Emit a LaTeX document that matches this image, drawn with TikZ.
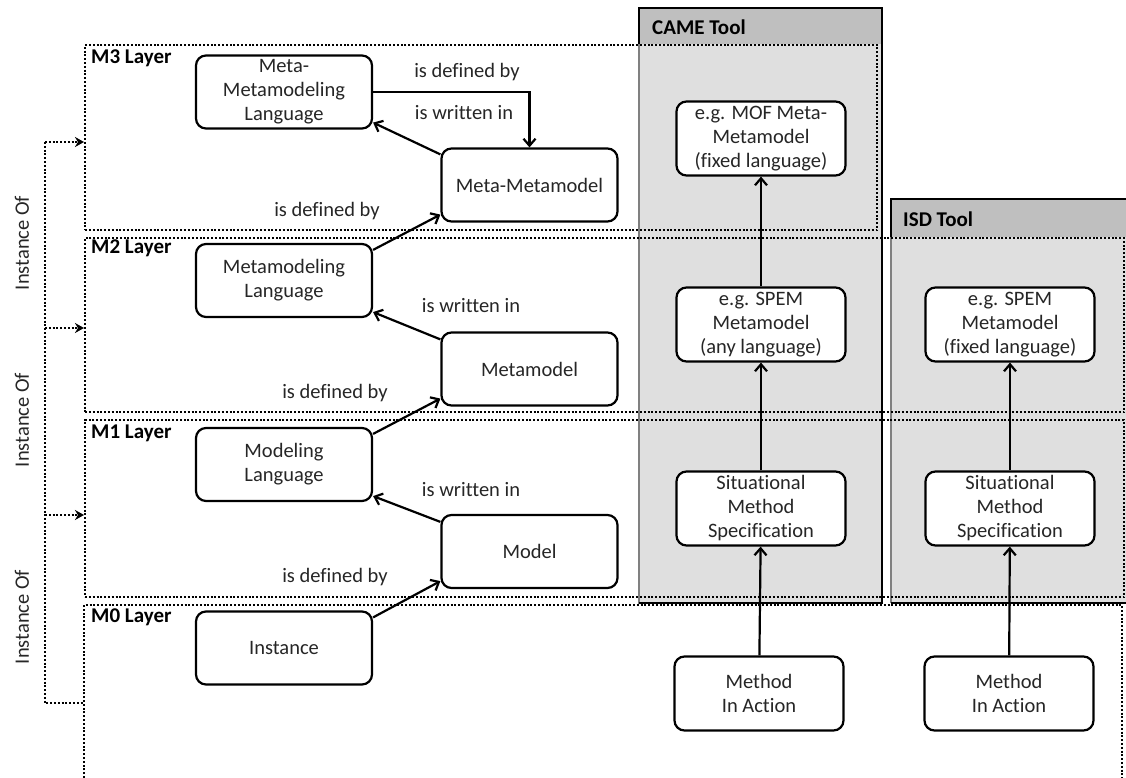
\documentclass[tikz,border=0pt]{standalone}
\usepackage{fontspec}
\setmainfont{Carlito}[Ligatures=NoCommon]
\usetikzlibrary{arrows.meta,positioning}

\tikzset{
  box/.style={draw,line width=2.2pt,rounded corners=10pt,fill=white,minimum width=176pt,
    minimum height=73pt,inner sep=1pt,align=center,text=black!85,font=\fontsize{20.5}{24}\selectfont},
  toolnode/.style={box,minimum width=169pt,minimum height=74pt},
  dots/.style={line width=2.2pt,dash pattern=on 2pt off 1.8pt},
  layer/.style={draw,dots,inner sep=0pt,anchor=north west},
  rel/.style={line width=2.2pt,-{Straight Barb[length=7pt,width=12pt]}},
  instof/.style={dots,-{Stealth[length=9pt,width=10pt]}},
  lbl/.style={text=black!85,font=\fontsize{20.5}{24}\selectfont},
  layername/.style={anchor=west,inner sep=0pt,font=\fontsize{21}{24}\selectfont\bfseries},
}

\begin{document}
\begin{tikzpicture}[x=1pt,y=-1pt]
  \useasboundingbox (0,0) rectangle (1126,778);
  % tool boxes
  \fill[gray!25] (639,44) rectangle (882,603);
  \fill[gray!50] (639,8) rectangle (882,44);
  \draw[gray,line width=1.2pt] (639,8) rectangle (882,603);
  \draw[line width=2.4pt] (639,44) -- (639,8) -- (882,8) -- (882,603) -- (639,603);
  \node[layername] (came) at (652,27) {CAME Tool};
  \fill[gray!25] (891,237) rectangle (1130,603);
  \fill[gray!50] (891,199) rectangle (1130,237);
  \draw[gray,line width=1.2pt] (891,237) -- (891,603);
  \draw[line width=2.4pt] (891,237) -- (891,199) -- (1130,199);
  \draw[line width=2.4pt] (891,603) -- (1130,603);
  \node[layername] (isd) at (903,219) {ISD Tool};

  % layers
  \node[layer,minimum width=792pt,minimum height=185pt] (m3) at (84,44) {};
  \node[layer,minimum width=1039pt,minimum height=174pt] (m2) at (84,237) {};
  \node[layer,minimum width=1039pt,minimum height=177pt] (m1) at (84,419) {};
  \draw[dots] (84,778) |- (1122,605) -- (1122,778);
  \node[layername] (l3) at (91,58) {M3 Layer};
  \node[layername] (l2) at (91,248) {M2 Layer};
  \node[layername] (l1) at (91,433) {M1 Layer};
  \node[layername] (l0) at (91,617) {M0 Layer};

  % instance of
  \coordinate (io3) at (45,142);
  \coordinate (io2) at (45,328);
  \coordinate (io1) at (45,515);
  \coordinate (io0) at (45,703);
  \draw[dots] (io3) -- (io0) -- ++(38,0);
  \foreach \a/\b in {io3/m3,io2/m2,io1/m1}
    \draw[instof] (\a) -- (\b.west |- \a);
  \foreach \y/\n in {243/i3,420/i2,617/i1}
    \node[lbl,rotate=90] (\n) at (22,\y) {Instance Of};

  % nodes
  \node[box] (mml) at (284,92) {Meta-\\Metamodeling\\Language};
  \node[box] (mmm) at (529.5,185) {Meta-Metamodel};
  \node[box] (mlang) at (284,280.5) {Metamodeling\\Language};
  \node[box] (mm) at (529.5,369) {Metamodel};
  \node[box] (modl) at (284,464.5) {Modeling\\Language};
  \node[box] (model) at (529.5,551.5) {Model};
  \node[box] (inst) at (284,648) {Instance};

  \node[toolnode] (mof) at (761,138.5) {e.g. MOF Meta-\\Metamodel\\(fixed language)};
  \node[toolnode] (spemA) at (761,324.5) {e.g. SPEM\\Metamodel\\(any language)};
  \node[toolnode] (smsA) at (761,508.5) {Situational\\Method\\Specification};
  \node[toolnode] (miaA) at (759,693.5) {Method\\In Action};
  \node[toolnode] (spemB) at (1010,324.5) {e.g. SPEM\\Metamodel\\(fixed language)};
  \node[toolnode] (smsB) at (1010,508.5) {Situational\\Method\\Specification};
  \node[toolnode] (miaB) at (1009,693.5) {Method\\In Action};

  % relations
  \draw[rel] (mml.east) -| (mmm.north);
  \draw[rel] ([yshift=-7pt]mmm.north west) -- ([yshift=7pt]mml.south east);
  \draw[rel] ([yshift=-7pt]mlang.north east) -- ([yshift=8pt]mmm.south west);
  \draw[rel] ([yshift=-8pt]mm.north west) -- ([yshift=6pt]mlang.south east);
  \draw[rel] ([yshift=-7pt]modl.north east) -- ([yshift=8pt]mm.south west);
  \draw[rel] ([yshift=-8pt]model.north west) -- ([yshift=6pt]modl.south east);
  \draw[rel] ([yshift=-7pt]inst.north east) -- ([yshift=8pt]model.south west);
  \node[lbl] (d3) at (467,72) {is defined by};
  \node[lbl] (w3) at (464,113) {is written in};
  \node[lbl] (d2) at (327,211) {is defined by};
  \node[lbl] (w2) at (471,306) {is written in};
  \node[lbl] (d1) at (335,393) {is defined by};
  \node[lbl] (w1) at (471,490) {is written in};
  \node[lbl] (d0) at (335,577) {is defined by};

  \draw[rel] (miaA) -- (smsA);
  \draw[rel] (smsA) -- (spemA);
  \draw[rel] (spemA) -- (mof);
  \draw[rel] (miaB) -- (smsB);
  \draw[rel] (smsB) -- (spemB);
\end{tikzpicture}
\end{document}
